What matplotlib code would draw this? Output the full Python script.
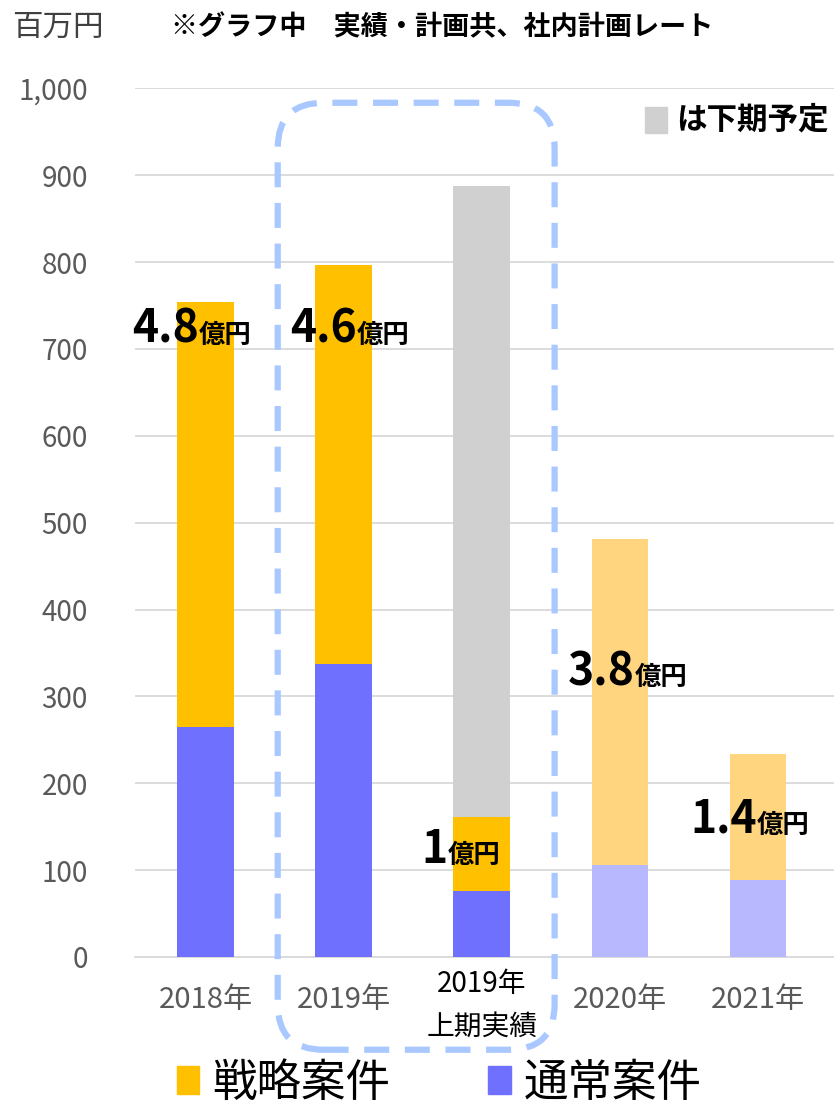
import numpy as np
import matplotlib.pyplot as plt
from matplotlib.patches import Patch, FancyBboxPatch, Rectangle

plt.rcParams['font.family'] = ['Noto Sans CJK JP', 'DejaVu Sans']

categories = ['2018年', '2019年', '2019年\n上期実績', '2020年', '2021年']
normal = [265, 337, 76, 106, 89]        # 通常案件
strategic = [489, 460, 85, 375, 145]    # 戦略案件
second_half = [0, 0, 727, 0, 0]         # 下期予定
labels_num = ['4.8', '4.6', '1', '3.8', '1.4']
label_y = [707, 707, 108, 313, 143]
label_dx = [-0.05, 0.094, -0.25, 0.11, -0.01]

c_orange = ['#FFC000', '#FFC000', '#FFC000', '#FFD57F', '#FFD57F']
c_blue = ['#7070FF', '#7070FF', '#7070FF', '#B8B8FF', '#B8B8FF']

fig = plt.figure(figsize=(8.34, 11.05), dpi=100)
ax = fig.add_axes([0.162, 0.134, 0.838, 0.786])

x = np.arange(len(categories))
w = 0.41
ax.bar(x, normal, w, color=c_blue, zorder=3)
ax.bar(x, strategic, w, bottom=normal, color=c_orange, zorder=3)
ax.bar(x, second_half, w, bottom=np.add(normal, strategic), color='#D0D0D0', zorder=3)

ax.set_ylim(0, 1000)
ax.set_xlim(-0.51, 4.55)
ax.set_yticks(range(0, 1001, 100))
ax.set_yticklabels([f'{v:,}' for v in range(0, 1001, 100)], fontsize=20, color='#595959')
ax.yaxis.grid(True, color='#D9D9D9', linewidth=1.3, zorder=0)
ax.tick_params(axis='both', length=0)
ax.tick_params(axis='y', pad=34)
for s in ['top', 'right', 'left']:
    ax.spines[s].set_visible(False)
ax.spines['bottom'].set_color('#D9D9D9')
ax.spines['bottom'].set_linewidth(1.3)

ax.set_xticks(x)
ax.set_xticklabels(categories, fontsize=21, color='#595959', linespacing=1.55)
ax.tick_params(axis='x', pad=20)
for i, t in enumerate(ax.get_xticklabels()):
    if i == 2:
        t.set_color('black')
        t.set_va('top')
        t.set_fontsize(20)
        t.set_y(0.018)

# value labels
for i in range(len(categories)):
    ax.text(x[i] + label_dx[i], label_y[i], labels_num[i], ha='right', va='baseline',
            fontsize=32, fontweight='bold', zorder=5)
    ax.text(x[i] + label_dx[i], label_y[i], '億円', ha='left', va='baseline',
            fontsize=19, fontweight='bold', zorder=5)

# dashed rounded box
box = FancyBboxPatch((0.333, 0.050), 0.332, 0.857, boxstyle='round,pad=0,rounding_size=0.055',
                     transform=fig.transFigure, fill=False, edgecolor='#A9C8FF',
                     linewidth=4.5, linestyle=(0, (4, 2.5)), mutation_aspect=0.75, zorder=10)
fig.patches.append(box)

# titles
fig.text(0.014, 0.975, '百万円', fontsize=22, color='#404040', va='center')
fig.text(0.205, 0.975, '※グラフ中　実績・計画共、社内計画レート', fontsize=19.5,
         fontweight='bold', va='center')

# gray note
fig.patches.append(Rectangle((0.773, 0.880), 0.027, 0.023, transform=fig.transFigure,
                             color='#D0D0D0'))
fig.text(0.811, 0.892, 'は下期予定', fontsize=22, fontweight='bold', va='center')

# legend
handles = [Patch(color='#FFC000', label='戦略案件'), Patch(color='#7070FF', label='通常案件')]
fig.legend(handles=handles, loc='center', bbox_to_anchor=(0.527, 0.02), ncol=2, frameon=False,
           fontsize=32, handlelength=0.5, handleheight=0.6, handletextpad=0.3,
           columnspacing=2.2)

fig.savefig('out.png', dpi=100)
